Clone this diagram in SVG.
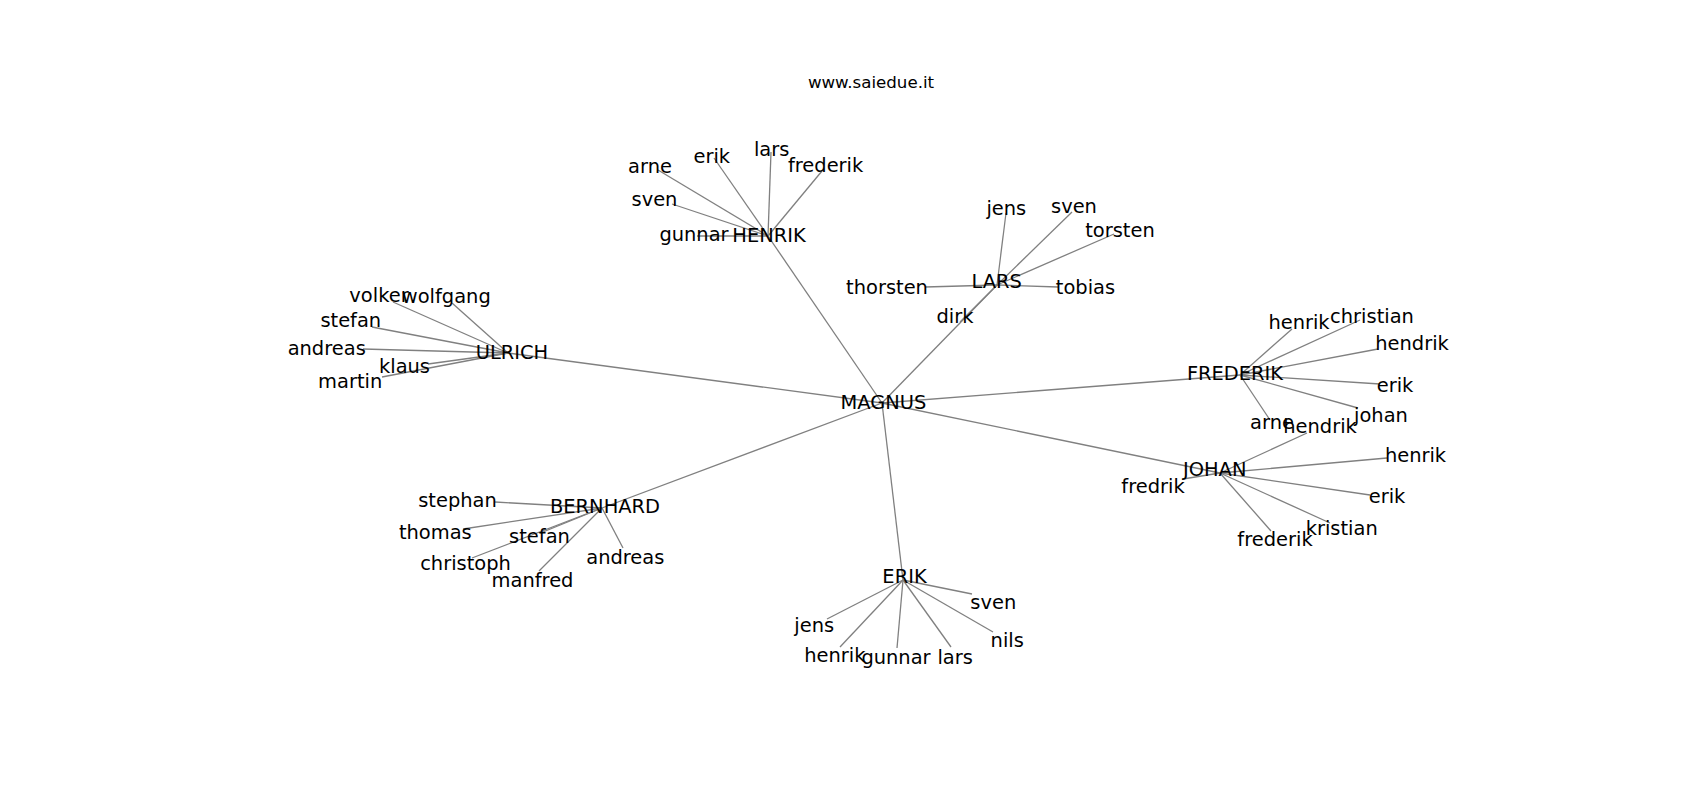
<svg xmlns="http://www.w3.org/2000/svg" width="1700" height="800" viewBox="0 0 1700 800">
<style>
.e{stroke:#808080;stroke-width:1.3;fill:none}
text{font-family:"DejaVu Sans",Verdana,sans-serif;fill:#000;text-anchor:middle}
.l{font-size:19.44px}
.t{font-size:16.67px}
</style>
<rect width="1700" height="800" fill="#fff"/>
<text class="t" x="871" y="87.7">www.saiedue.it</text>
<g id="edges">
<line class="e" x1="882" y1="403" x2="768" y2="236"/>
<line class="e" x1="882" y1="403" x2="997" y2="285"/>
<line class="e" x1="882" y1="403" x2="508" y2="353"/>
<line class="e" x1="882" y1="403" x2="1240" y2="375"/>
<line class="e" x1="882" y1="403" x2="1220" y2="473"/>
<line class="e" x1="882" y1="403" x2="602" y2="508"/>
<line class="e" x1="882" y1="403" x2="903" y2="580"/>
<line class="e" x1="768" y1="236" x2="658" y2="170"/>
<line class="e" x1="768" y1="236" x2="714" y2="158"/>
<line class="e" x1="768" y1="236" x2="771" y2="152"/>
<line class="e" x1="768" y1="236" x2="822" y2="171"/>
<line class="e" x1="768" y1="236" x2="672" y2="204"/>
<line class="e" x1="768" y1="236" x2="697" y2="236"/>
<line class="e" x1="997" y1="285" x2="1006" y2="213"/>
<line class="e" x1="997" y1="285" x2="1072" y2="212"/>
<line class="e" x1="997" y1="285" x2="1114" y2="234"/>
<line class="e" x1="997" y1="285" x2="1058" y2="287"/>
<line class="e" x1="997" y1="285" x2="925" y2="287"/>
<line class="e" x1="997" y1="285" x2="960" y2="322"/>
<line class="e" x1="508" y1="353" x2="393" y2="302"/>
<line class="e" x1="508" y1="353" x2="452" y2="303"/>
<line class="e" x1="508" y1="353" x2="372" y2="327"/>
<line class="e" x1="508" y1="353" x2="363" y2="349"/>
<line class="e" x1="508" y1="353" x2="428" y2="364"/>
<line class="e" x1="508" y1="353" x2="382" y2="377"/>
<line class="e" x1="1240" y1="375" x2="1292" y2="329"/>
<line class="e" x1="1240" y1="375" x2="1360" y2="320"/>
<line class="e" x1="1240" y1="375" x2="1378" y2="349"/>
<line class="e" x1="1240" y1="375" x2="1380" y2="384"/>
<line class="e" x1="1240" y1="375" x2="1358" y2="408"/>
<line class="e" x1="1240" y1="375" x2="1270" y2="420"/>
<line class="e" x1="1220" y1="473" x2="1307" y2="433"/>
<line class="e" x1="1220" y1="473" x2="1387" y2="458"/>
<line class="e" x1="1220" y1="473" x2="1370" y2="495"/>
<line class="e" x1="1220" y1="473" x2="1330" y2="523"/>
<line class="e" x1="1220" y1="473" x2="1271" y2="531"/>
<line class="e" x1="1220" y1="473" x2="1183" y2="479"/>
<line class="e" x1="602" y1="508" x2="495" y2="502"/>
<line class="e" x1="602" y1="508" x2="463" y2="529"/>
<line class="e" x1="602" y1="508" x2="543" y2="532"/>
<line class="e" x1="602" y1="508" x2="472" y2="558"/>
<line class="e" x1="602" y1="508" x2="539" y2="571"/>
<line class="e" x1="602" y1="508" x2="623" y2="548"/>
<line class="e" x1="903" y1="580" x2="827" y2="619"/>
<line class="e" x1="903" y1="580" x2="840" y2="647"/>
<line class="e" x1="903" y1="580" x2="897" y2="648"/>
<line class="e" x1="903" y1="580" x2="951" y2="647"/>
<line class="e" x1="903" y1="580" x2="993" y2="632"/>
<line class="e" x1="903" y1="580" x2="972" y2="594"/>
</g>
<g id="n_magnus"><text class="l" x="883.5" y="409">MAGNUS</text></g>
<g id="n_henrik"><text class="l" x="769" y="241.7">HENRIK</text></g>
<g id="n_henrik_arne"><text class="l" x="650" y="173.3">arne</text></g>
<g id="n_henrik_erik"><text class="l" x="711.8" y="163.3">erik</text></g>
<g id="n_henrik_lars"><text class="l" x="771.7" y="156">lars</text></g>
<g id="n_henrik_frederik"><text class="l" x="825.6" y="171.7">frederik</text></g>
<g id="n_henrik_sven"><text class="l" x="654.5" y="205.7">sven</text></g>
<g id="n_henrik_gunnar"><text class="l" x="694" y="240.7">gunnar</text></g>
<g id="n_lars"><text class="l" x="996.7" y="288.3">LARS</text></g>
<g id="n_lars_jens"><text class="l" x="1006.3" y="215">jens</text></g>
<g id="n_lars_sven"><text class="l" x="1074" y="212.7">sven</text></g>
<g id="n_lars_torsten"><text class="l" x="1120" y="236.7">torsten</text></g>
<g id="n_lars_tobias"><text class="l" x="1085.5" y="294">tobias</text></g>
<g id="n_lars_thorsten"><text class="l" x="887" y="294.3">thorsten</text></g>
<g id="n_lars_dirk"><text class="l" x="955" y="323.3">dirk</text></g>
<g id="n_ulrich"><text class="l" x="512" y="359">ULRICH</text></g>
<g id="n_ulrich_volker"><text class="l" x="379" y="302.3">volker</text></g>
<g id="n_ulrich_wolfgang"><text class="l" x="446.3" y="303.3">wolfgang</text></g>
<g id="n_ulrich_stefan"><text class="l" x="350.8" y="327.3">stefan</text></g>
<g id="n_ulrich_andreas"><text class="l" x="326.7" y="355">andreas</text></g>
<g id="n_ulrich_klaus"><text class="l" x="404.5" y="372.7">klaus</text></g>
<g id="n_ulrich_martin"><text class="l" x="350.2" y="388">martin</text></g>
<g id="n_frederik"><text class="l" x="1235" y="380">FREDERIK</text></g>
<g id="n_frederik_henrik"><text class="l" x="1299" y="329.3">henrik</text></g>
<g id="n_frederik_christian"><text class="l" x="1372" y="323.3">christian</text></g>
<g id="n_frederik_hendrik"><text class="l" x="1412" y="350">hendrik</text></g>
<g id="n_frederik_erik"><text class="l" x="1395" y="391.7">erik</text></g>
<g id="n_frederik_johan"><text class="l" x="1381" y="421.7">johan</text></g>
<g id="n_frederik_arne"><text class="l" x="1272" y="429.3">arne</text></g>
<g id="n_johan"><text class="l" x="1214.7" y="476">JOHAN</text></g>
<g id="n_johan_hendrik"><text class="l" x="1320" y="433.3">hendrik</text></g>
<g id="n_johan_henrik"><text class="l" x="1415.5" y="461.7">henrik</text></g>
<g id="n_johan_erik"><text class="l" x="1387" y="503.3">erik</text></g>
<g id="n_johan_kristian"><text class="l" x="1341.7" y="535">kristian</text></g>
<g id="n_johan_frederik"><text class="l" x="1275" y="545.9">frederik</text></g>
<g id="n_johan_fredrik"><text class="l" x="1153" y="492.7">fredrik</text></g>
<g id="n_bernhard"><text class="l" x="605" y="512.7">BERNHARD</text></g>
<g id="n_bernhard_stephan"><text class="l" x="457.5" y="506.5">stephan</text></g>
<g id="n_bernhard_thomas"><text class="l" x="435.3" y="539">thomas</text></g>
<g id="n_bernhard_stefan"><text class="l" x="539.5" y="543.3">stefan</text></g>
<g id="n_bernhard_christoph"><text class="l" x="465.5" y="569.7">christoph</text></g>
<g id="n_bernhard_manfred"><text class="l" x="532.5" y="587.1">manfred</text></g>
<g id="n_bernhard_andreas"><text class="l" x="625.3" y="564">andreas</text></g>
<g id="n_erik"><text class="l" x="904.5" y="583.3">ERIK</text></g>
<g id="n_erik_jens"><text class="l" x="814.2" y="631.5">jens</text></g>
<g id="n_erik_henrik"><text class="l" x="834.8" y="661.9">henrik</text></g>
<g id="n_erik_gunnar"><text class="l" x="896" y="664.1">gunnar</text></g>
<g id="n_erik_lars"><text class="l" x="955.2" y="664.1">lars</text></g>
<g id="n_erik_nils"><text class="l" x="1007.2" y="646.7">nils</text></g>
<g id="n_erik_sven"><text class="l" x="993.3" y="608.8">sven</text></g>
</svg>
